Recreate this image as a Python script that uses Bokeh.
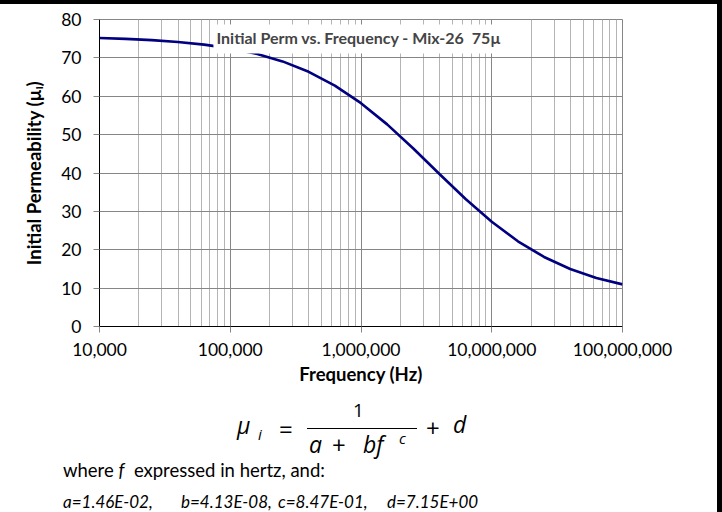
from bokeh.plotting import figure
from bokeh.layouts import column
from bokeh.models import FixedTicker, NumeralTickFormatter, Label, Range1d, Div
from bokeh.embed import file_html
from bokeh.resources import INLINE

# ---- data ----
freq_hz = [1.0e4, 1.585e4, 2.512e4, 3.981e4, 6.310e4,
           1.0e5, 1.585e5, 2.512e5, 3.981e5, 6.310e5,
           1.0e6, 1.585e6, 2.512e6, 3.981e6, 6.310e6,
           1.0e7, 1.585e7, 2.512e7, 3.981e7, 6.310e7,
           1.0e8]
init_perm = [75.17, 74.95, 74.63, 74.15, 73.46,
             72.47, 71.06, 69.08, 66.37, 62.78,
             58.20, 52.67, 46.39, 39.75, 33.23,
             27.28, 22.21, 18.12, 14.99, 12.66,
             10.98]
x_major_ticks = [1e4, 1e5, 1e6, 1e7, 1e8]
x_minor_ticks = [k * 10 ** e for e in range(4, 8) for k in range(2, 10)]
y_ticks = [0, 10, 20, 30, 40, 50, 60, 70, 80]

title_text = "Initial Perm vs. Frequency - Mix-26\u00a0 75\u00b5"
x_label = "Frequency (Hz)"
y_label = "Initial Permeability (\u00b5\u1d62)"
coef_texts = ["a=1.46E-02,", "b=4.13E-08,", "c=8.47E-01,", "d=7.15E+00"]

FONT = "Lato"
MATH = "Open Sans"

# ---------------- chart ----------------
p = figure(width=717, height=388, x_axis_type="log",
           x_range=Range1d(1e4, 1e8), y_range=Range1d(0, 80),
           output_backend="svg", toolbar_location=None,
           min_border_left=99, min_border_right=95,
           min_border_top=15, min_border_bottom=66)
p.outline_line_color = "#868686"
p.outline_line_width = 1

p.line(freq_hz, init_perm, line_color="#000080", line_width=2.6)

p.xaxis.ticker = FixedTicker(ticks=x_major_ticks, minor_ticks=x_minor_ticks)
p.xaxis.formatter = NumeralTickFormatter(format="0,0")
p.yaxis.ticker = FixedTicker(ticks=y_ticks)
for ax in (p.xaxis, p.yaxis):
    ax.axis_line_color = "black"
    ax.axis_line_width = 1
    ax.major_tick_line_color = "#868686"
    ax.major_tick_in = 0
    ax.major_tick_out = 6
    ax.minor_tick_line_color = None
    ax.major_label_text_font = FONT
    ax.major_label_text_font_size = "17.5px"
    ax.major_label_text_color = "black"
    ax.axis_label_text_font = FONT
    ax.axis_label_text_font_style = "bold"
    ax.axis_label_text_color = "black"
    ax.axis_label_text_font_size = "18.5px"
p.xaxis.axis_label = x_label
p.yaxis.axis_label = y_label
p.xaxis.major_label_standoff = 10
p.xaxis.axis_label_standoff = 4
p.yaxis.major_label_standoff = 12
p.yaxis.axis_label_standoff = 13

p.xgrid.grid_line_color = "#868686"
p.xgrid.minor_grid_line_color = "#b4b4b4"
p.ygrid.grid_line_color = "#868686"

p.add_layout(Label(x=261.5, y=287.5, x_units="screen", y_units="screen",
                   text=title_text, text_font=FONT, text_font_size="16px",
                   text_font_style="bold", text_align="center",
                   text_baseline="middle", background_fill_color="white",
                   padding=(3, 7, 3, 7)))

# ---------------- formula and notes (HTML below the chart) ----------------
TOP = 392   # page y of the block
BLOCK_H = 120


def span(X, Ybase, t, size, font=MATH, style="italic"):
    top = Ybase - TOP - 0.887 * size
    return ('<span style="position:absolute;left:%.1fpx;top:%.1fpx;'
            "font-family:'%s';font-size:%spx;font-style:%s;line-height:1;"
            'white-space:pre;color:#000;">%s</span>'
            % (X, top, font, size, style, t))


parts = [
    span(237, 434, "\u03bc", 23),
    span(258, 440, "i", 15),
    span(279, 438, "=", 24, style="normal"),
    span(353, 418, "1", 19, style="normal"),
    span(309, 453.5, "a", 23),
    span(332, 454.5, "+", 24, style="normal"),
    span(363, 453.5, "bf", 23),
    span(399, 444, "c", 15),
    span(426, 437, "+", 24, style="normal"),
    span(453, 433, "d", 23),
    ('<div style="position:absolute;left:307px;top:%.1fpx;width:110px;'
     'height:0;border-top:1.5px solid #000;"></div>' % (427.5 - TOP)),
    span(63, 477, "where <i>f</i>&nbsp; expressed in hertz, and:", 18.5,
         font=FONT, style="normal"),
]
for X, t in zip([63, 181, 278, 387], coef_texts):
    parts.append(span(X, 508, t, 17, font=FONT, style="italic"))

html = ('<div style="position:relative;width:717px;height:%dpx;'
        'overflow:hidden;margin:0;padding:0;">' % BLOCK_H
        + "".join(parts) + "</div>")
notes = Div(text=html, width=717, height=BLOCK_H, margin=0)

layout = column(p, notes, spacing=0,
                styles={"border-top": "4px solid black",
                        "border-right": "5px solid black"})

open("out.html", "w").write(file_html(layout, INLINE))
